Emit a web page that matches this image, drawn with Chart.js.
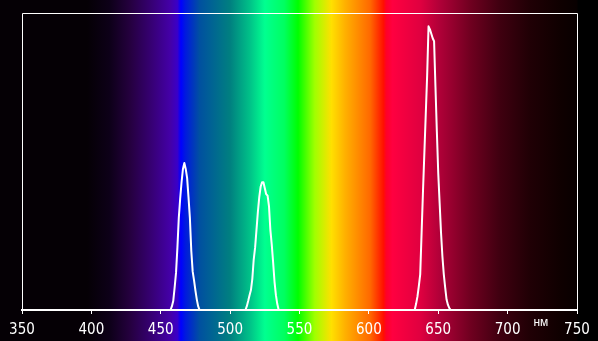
<!DOCTYPE html>
<html>
<head>
<meta charset="utf-8">
<script src="https://cdn.jsdelivr.net/npm/chart.js@4"></script>
<style>
  html, body { margin: 0; padding: 0; background: #000; }
</style>
</head>
<body>
<canvas id="spectrum" width="598" height="341"></canvas>
<script>
// spectrum samples, nm
const wavelengths = [
  350,
  457, 458, 459, 460, 461, 462, 463, 464, 465, 466, 467, 468, 469, 470, 471, 472, 473, 474, 475, 476, 477, 478,
  511, 512, 513, 514, 515, 516, 517, 518, 519, 520, 521, 522, 523, 524, 525, 526, 527, 528, 529, 530, 531, 532, 533, 534, 535,
  633, 634, 635, 636, 637, 638, 639, 640, 641, 642, 643, 644, 645, 646, 647, 648, 649, 650, 651, 652, 653, 654, 655, 656, 657, 658, 659,
  740
];
// relative intensity
const intensity = [
  0,
  0, 0.012, 0.03, 0.075, 0.125, 0.21, 0.31, 0.375, 0.43, 0.475, 0.495, 0.475, 0.445, 0.38, 0.31, 0.2, 0.13, 0.1, 0.065, 0.035, 0.012, 0,
  0, 0.012, 0.03, 0.05, 0.067, 0.105, 0.17, 0.21, 0.27, 0.33, 0.38, 0.415, 0.43, 0.43, 0.41, 0.39, 0.385, 0.35, 0.27, 0.22, 0.16, 0.095, 0.05, 0.02, 0,
  0, 0.02, 0.045, 0.08, 0.12, 0.26, 0.4, 0.53, 0.66, 0.79, 0.955, 0.945, 0.93, 0.915, 0.905, 0.75, 0.6, 0.46, 0.36, 0.26, 0.18, 0.12, 0.075, 0.035, 0.017, 0.006, 0,
  0
];
const xTicks = [350, 400, 450, 500, 550, 600, 650, 700, 750];
const unitLabel = 'нм';

// colour of the visible spectrum behind the plot
const bandStops = [
  [350, '#050005'], [397, '#050005'], [413, '#0d0018'], [428, '#25003f'], [442, '#35006f'],
  [457, '#4400a8'], [462, '#3a00c8'], [464.5, '#0000ff'], [467.5, '#0018e0'], [478, '#0050a0'],
  [500, '#008080'], [514, '#00c088'], [525, '#00ff90'], [539, '#00ff60'], [549, '#00ff00'],
  [561, '#a0ff00'], [573, '#ffe000'], [583, '#ffb000'], [601, '#ff6800'], [610.5, '#ff1000'],
  [612.5, '#ff0028'], [617, '#ff0040'], [637, '#e00040'], [651, '#b00038'], [673, '#700020'],
  [694, '#400010'], [716, '#200005'], [738, '#0f0000'], [750, '#080000']
];

const spectrumBackground = {
  id: 'spectrumBackground',
  beforeDraw(chart) {
    const { ctx, scales: { x } } = chart;
    const x0 = x.getPixelForValue(350);
    const x1 = x.getPixelForValue(750);
    const grad = ctx.createLinearGradient(x0, 0, x1, 0);
    bandStops.forEach(([nm, c]) => grad.addColorStop((nm - 350) / 400, c));
    ctx.save();
    ctx.fillStyle = '#000';
    ctx.fillRect(0, 0, chart.width, chart.height);
    ctx.fillStyle = grad;
    ctx.fillRect(0, 0, x1 + 0.5, chart.height);
    ctx.restore();
  },
  beforeDatasetsDraw(chart) {
    const { ctx, chartArea: a } = chart;
    ctx.save();
    ctx.strokeStyle = '#fff';
    ctx.lineWidth = 1;
    ctx.beginPath();
    ctx.moveTo(a.left + 0.5, a.bottom);
    ctx.lineTo(a.left + 0.5, a.top + 0.5);
    ctx.lineTo(a.right + 0.5, a.top + 0.5);
    ctx.lineTo(a.right + 0.5, a.bottom);
    ctx.stroke();
    ctx.restore();
  },
  afterDraw(chart) {
    const { ctx, scales: { x } } = chart;
    ctx.save();
    ctx.fillStyle = '#fff';
    ctx.font = '12px "Liberation Sans", Arial, sans-serif';
    ctx.textAlign = 'center';
    ctx.textBaseline = 'alphabetic';
    ctx.fillText(unitLabel, x.getPixelForValue(724), 326);
    ctx.restore();
  }
};

const ctx = document.getElementById('spectrum').getContext('2d');
new Chart(ctx, {
  type: 'line',
  data: {
    datasets: [{
      data: wavelengths.map((w, i) => ({ x: w, y: intensity[i] })),
      borderColor: '#fff',
      borderWidth: 2,
      borderJoinStyle: 'round',
      pointRadius: 0,
      tension: 0,
      fill: false
    }]
  },
  options: {
    responsive: false,
    animation: false,
    layout: { padding: { left: 22, right: 21, top: 13, bottom: 0 } },
    plugins: {
      legend: { display: false },
      tooltip: { enabled: false }
    },
    scales: {
      x: {
        type: 'linear',
        min: 350,
        max: 750,
        afterBuildTicks: scale => { scale.ticks = xTicks.map(v => ({ value: v })); },
        afterFit: scale => { scale.height = 31; },
        ticks: {
          color: '#fff',
          padding: 7,
          maxRotation: 0,
          font: { family: '"Liberation Sans Narrow", "DejaVu Sans Condensed", Arial, sans-serif', size: 15 }
        },
        grid: {
          drawOnChartArea: false,
          drawTicks: true,
          tickLength: 4,
          color: '#fff',
          lineWidth: 1
        },
        border: { display: true, color: '#fff', width: 2 }
      },
      y: {
        display: false,
        min: 0,
        max: 1
      }
    }
  },
  plugins: [spectrumBackground]
});
</script>
</body>
</html>
